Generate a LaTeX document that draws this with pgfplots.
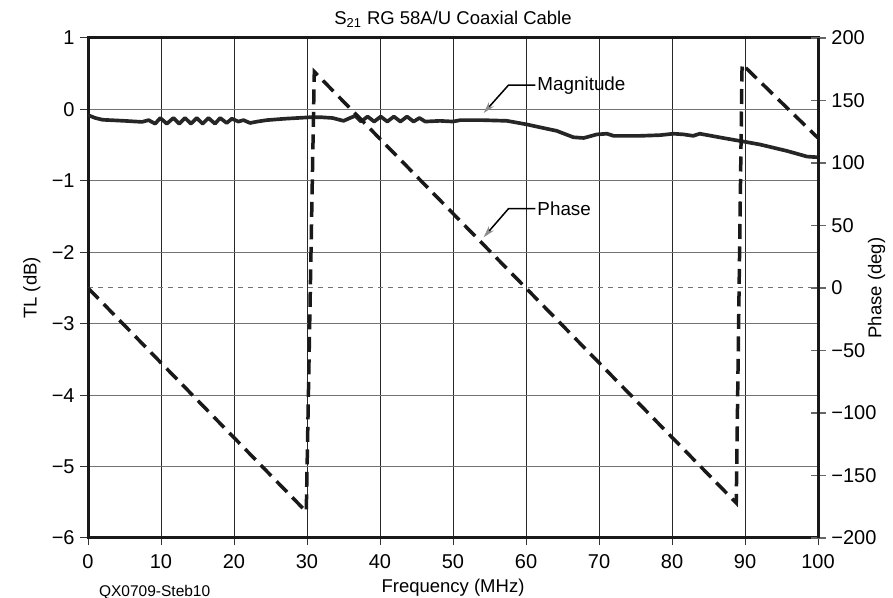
\documentclass[border=0pt]{standalone}
\usepackage{fontspec}
\setmainfont{Liberation Sans}
\usepackage{pgfplots}
\pgfplotsset{compat=1.18}
\usetikzlibrary{arrows.meta}

\pgfplotstableread{
x y
0 -0.08
1 -0.12
2 -0.145
5 -0.16
7.4 -0.175
8.3 -0.15
9.2 -0.20
9.9 -0.12
10.8 -0.20
11.7 -0.12
12.5 -0.20
13.3 -0.12
14.1 -0.20
14.9 -0.12
15.7 -0.20
16.5 -0.12
17.4 -0.20
18.1 -0.12
19.0 -0.19
19.7 -0.13
20.6 -0.17
21.3 -0.15
22.2 -0.19
23.2 -0.17
24.5 -0.15
27 -0.13
30.4 -0.11
32 -0.11
33.5 -0.12
35.0 -0.16
35.9 -0.12
36.6 -0.09
37.4 -0.17
38.3 -0.10
39.2 -0.17
40.1 -0.10
41.0 -0.17
41.9 -0.10
42.8 -0.17
43.7 -0.10
44.6 -0.17
45.4 -0.12
46.2 -0.17
48.2 -0.16
50.0 -0.17
51 -0.15
54 -0.15
57.4 -0.16
60.1 -0.21
61.9 -0.25
64.2 -0.30
66.5 -0.39
67.9 -0.40
69.7 -0.35
71.1 -0.34
72.0 -0.37
75.6 -0.37
78.4 -0.36
80.2 -0.34
81.6 -0.35
82.9 -0.37
83.8 -0.34
87.0 -0.40
89.8 -0.45
92.0 -0.49
95.7 -0.58
98.5 -0.66
100 -0.67
}\magdata

\pgfplotstableread{
x y
0 0
29.9 -179
31.0 173
88.8 -172
89.6 179
100 120
}\phasedata

\begin{document}
\begin{tikzpicture}
\begin{axis}[
  name=ax,
  scale only axis,
  width=438pt, height=300pt,
  xmin=0, xmax=100, ymin=-6, ymax=1,
  xtick={0,10,...,100},
  ytick={-6,-5,...,1},
  yticklabels={−6,−5,−4,−3,−2,−1,0,1},
  xticklabels={0,10,20,30,40,50,60,70,80,90,100},
  xtick pos=bottom, ytick pos=left,
  tick align=outside,
  major tick length=4.5pt,
  tick style={black!80, line width=0.6pt},
  xmajorgrids, ymajorgrids,
  x grid style={black!85, line width=0.5pt},
  y grid style={black!55, line width=0.6pt},
  axis line style={line width=1.8pt, black!90},
  xlabel={Frequency (MHz)},
  ylabel={TL (dB)},
  title={S\textsubscript{21} RG 58A/U Coaxial Cable},
  title style={yshift=-3pt, font=\fontsize{11.1}{13}\selectfont},
  xlabel style={yshift=0.5pt, font=\fontsize{11.1}{13}\selectfont},
  ylabel style={yshift=0pt, font=\fontsize{11.1}{13}\selectfont},
  xticklabel style={yshift=-2pt},
  tick label style={font=\fontsize{12}{14}\selectfont},
]
\addplot[black!85, line width=2.2pt, line join=round] table[x=x,y=y] {\magdata};
\node[anchor=west, font=\fontsize{11.3}{13}\selectfont, inner sep=1pt] at (axis cs:61.3,0.34) {Magnitude};
\draw[black, line width=0.9pt, -{Stealth[length=7pt,width=4pt,color=black!45]}]
  (axis cs:61.3,0.34) -- (axis cs:57.6,0.34) -- (axis cs:54.2,-0.05);
\node[anchor=west, font=\fontsize{11.3}{13}\selectfont, inner sep=1pt] at (axis cs:61.3,-1.39) {Phase};
\draw[black, line width=0.9pt, -{Stealth[length=7pt,width=4pt,color=black!45]}]
  (axis cs:61.3,-1.39) -- (axis cs:57.6,-1.39) -- (axis cs:54.2,-1.79);
\end{axis}
\begin{axis}[
  scale only axis,
  width=438pt, height=300pt,
  xmin=0, xmax=100, ymin=-200, ymax=200,
  axis x line=none,
  axis y line*=right,
  ytick={-200,-150,...,200},
  yticklabels={−200,−150,−100,−50,0,50,100,150,200},
  tick align=center,
  major tick length=9pt,
  tick style={black!60, line width=0.7pt},
  axis line style={line width=1.8pt, black!90},
  ylabel={Phase (deg)},
  ylabel style={yshift=12pt, font=\fontsize{11.1}{13}\selectfont},
  tick label style={font=\fontsize{12}{14}\selectfont},
]
\addplot[black!55, dashed, line width=0.6pt] coordinates {(0,0) (100,0)};
\addplot[black!90, line width=2.1pt, dash pattern=on 9pt off 4.5pt] table[x=x,y=y] {\phasedata};
\end{axis}
\node[font=\fontsize{9.3}{11}\selectfont] at ([xshift=40pt,yshift=-32.5pt]ax.south west) {QX0709-Steb10};
\pgfresetboundingbox
\path ([xshift=-52.8pt,yshift=-36pt]ax.south west) rectangle ([xshift=45pt,yshift=22.8pt]ax.north east);
\end{tikzpicture}
\end{document}
